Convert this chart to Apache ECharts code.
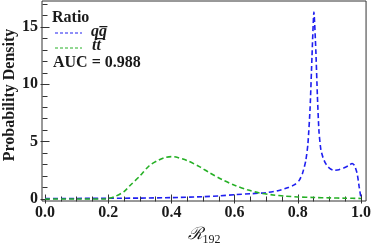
<!DOCTYPE html>
<html><head><meta charset="utf-8">
<script src="https://cdn.jsdelivr.net/npm/echarts@6/dist/echarts.min.js"></script>
<style>html,body{margin:0;padding:0;background:#fff}#c{width:374px;height:243px}</style>
</head><body><div id="c"></div>
<script>
// q qbar ratio distribution
const qqX = [0.00,0.10,0.20,0.30,0.40,0.50,0.55,0.60,0.65,0.70,0.74,0.77,0.79,0.805,0.815,0.825,0.832,0.839,0.845,0.851,0.857,0.862,0.867,0.873,0.880,0.888,0.896,0.905,0.915,0.930,0.945,0.960,0.972,0.980,0.988,0.994,1.000];
const qqY = [0.05,0.05,0.06,0.08,0.12,0.2,0.27,0.38,0.46,0.55,0.75,1.0,1.25,1.65,2.25,3.3,4.8,8.0,12.5,16.3,13.0,9.0,5.9,4.3,3.6,3.1,2.8,2.6,2.5,2.55,2.7,2.9,3.1,2.9,2.2,1.1,0.05];
// t tbar ratio distribution
const ttX = [0.00,0.10,0.19,0.20,0.22,0.25,0.27,0.30,0.33,0.36,0.38,0.40,0.42,0.45,0.49,0.52,0.56,0.60,0.64,0.68,0.72,0.76,0.80,0.85,0.90,0.95,1.00];
const ttY = [0.0,0.0,0.0,0.02,0.2,0.65,1.2,2.0,2.9,3.4,3.62,3.7,3.62,3.35,2.8,2.3,1.7,1.2,0.8,0.52,0.36,0.25,0.18,0.13,0.1,0.07,0.05];
const xTickLabels = [0.0,0.2,0.4,0.6,0.8,1.0];
const yTickLabels = [0,5,10,15];
const xMinorTicks = [0.05,0.1,0.15,0.25,0.3,0.35,0.45,0.5,0.55,0.65,0.7,0.75,0.85,0.9,0.95];
const yMinorTicks = [1,2,3,4,6,7,8,9,11,12,13,14,16,17];
const legendTitle = 'Ratio';
const seriesNames = ['qq\u0305', 'tt\u0305'];
const aucText = 'AUC = 0.988';

const X_MIN=-0.0095, X_MAX=1.016, Y_MIN=-0.174, Y_MAX=17.27;
const frameColor='#333';
const serif='"Liberation Serif","Times New Roman",serif';
const labelStyle={fontFamily:serif,fontWeight:'bold',fontSize:16,color:'#1a1a1a'};

function xAx(pos, vals, len, label){
  return {type:'value',position:pos,min:X_MIN,max:X_MAX,
    axisLine:{show:false},splitLine:{show:false},
    axisTick:{show:true,inside:true,length:len,customValues:vals,lineStyle:{color:frameColor,width:1}},
    axisLabel:label?Object.assign({show:true,margin:4,customValues:vals,formatter:v=>v.toFixed(1)},labelStyle):{show:false}};
}
function yAx(pos, vals, len, label){
  return {type:'value',position:pos,min:Y_MIN,max:Y_MAX,
    axisLine:{show:false},splitLine:{show:false},
    axisTick:{show:true,inside:true,length:len,customValues:vals,lineStyle:{color:frameColor,width:1}},
    axisLabel:label?Object.assign({show:true,margin:4,customValues:vals,formatter:v=>String(v)},labelStyle):{show:false}};
}
const chart = echarts.init(document.getElementById('c'),null,{renderer:'canvas'});
const dashed = (c)=>({color:c,width:1.6,type:[5,3]});
chart.setOption({
  animation:false,
  grid:{left:42,right:7,top:1,bottom:42,show:true,borderColor:frameColor,borderWidth:1,backgroundColor:'transparent'},
  xAxis:[xAx('bottom',xTickLabels,4.5,true),xAx('bottom',xMinorTicks,2.5,false),xAx('top',xTickLabels,4.5,false),xAx('top',xMinorTicks,2.5,false)],
  yAxis:[yAx('left',yTickLabels,4.5,true),yAx('left',yMinorTicks,2.5,false),yAx('right',yTickLabels,4.5,false),yAx('right',yMinorTicks,2.5,false)],
  series:[
    {type:'line',name:seriesNames[0],data:qqX.map((x,i)=>[x,qqY[i]]),showSymbol:false,smooth:0.2,lineStyle:dashed('#1f1ff0'),clip:false},
    {type:'line',name:seriesNames[1],data:ttX.map((x,i)=>[x,ttY[i]]),showSymbol:false,smooth:0.3,lineStyle:dashed('#26b026'),clip:false}
  ],
  graphic:[
    {type:'text',left:52,top:10,style:{text:legendTitle,font:'bold 16px '+serif,fill:'#1a1a1a'}},
    {type:'line',shape:{x1:55,y1:33,x2:82,y2:33},style:{stroke:'#1f1ff0',lineWidth:1,lineDash:[3,2]}},
    {type:'text',x:91,y:32,style:{text:seriesNames[0],font:'italic bold 16px '+serif,fill:'#1a1a1a',verticalAlign:'middle'}},
    {type:'line',shape:{x1:55,y1:48,x2:82,y2:48},style:{stroke:'#26b026',lineWidth:1,lineDash:[3,2]}},
    {type:'text',x:92,y:46,style:{text:seriesNames[1],font:'italic bold 16px '+serif,fill:'#1a1a1a',verticalAlign:'middle'}},
    {type:'text',left:53,top:55,style:{text:aucText,font:'bold 16px '+serif,fill:'#1a1a1a'}},
    {type:'text',x:10,y:95,rotation:Math.PI/2,style:{text:'Probability Density',font:'bold 16px '+serif,fill:'#1a1a1a',align:'center',verticalAlign:'middle'}},
    {type:'text',x:204,y:235,style:{text:'{r|\u211B}{s|192}',align:'center',verticalAlign:'middle',
      rich:{r:{fontFamily:'"DejaVu Serif",serif',fontStyle:'italic',fontSize:17,fill:'#1a1a1a'},
            s:{fontFamily:serif,fontSize:12,fill:'#1a1a1a',padding:[9,0,0,0]}}}}
  ]
});
</script></body></html>
